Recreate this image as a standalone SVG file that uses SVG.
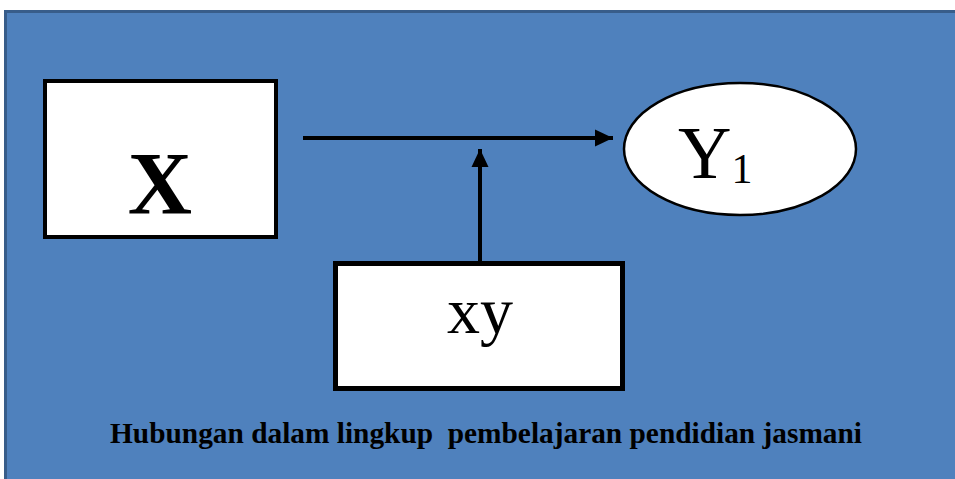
<svg xmlns="http://www.w3.org/2000/svg" width="955" height="479" viewBox="0 0 955 479">
<defs>
<style>
.box{fill:#fff;stroke:#000}
.lbl{font-family:"Liberation Serif","Times New Roman",serif;fill:#000}
.conn{stroke:#000;stroke-width:4;fill:none}
</style>
<marker id="ah" markerUnits="userSpaceOnUse" markerWidth="20" markerHeight="18" refX="18" refY="9" orient="auto" viewBox="0 0 20 18">
<polygon points="0,0.5 18,9 0,17.5" fill="#000"/>
</marker>
</defs>
<rect x="0" y="0" width="955" height="479" fill="#fff"/>
<rect x="5.5" y="11.5" width="960" height="480" fill="#4F81BD" stroke="#385D8A" stroke-width="3"/>
<g id="connectors">
<line class="conn" x1="303" y1="138" x2="613" y2="138" marker-end="url(#ah)"/>
<line class="conn" x1="480" y1="262" x2="480" y2="149" marker-end="url(#ah)"/>
</g>
<g id="node-x">
<rect class="box" x="45" y="81" width="231" height="156" stroke-width="4"/>
<text class="lbl" x="160" y="213" font-size="89" font-weight="bold" text-anchor="middle">X</text>
</g>
<g id="node-y1">
<ellipse class="box" cx="740" cy="149" rx="116" ry="66" stroke-width="2.5"/>
<text class="lbl" x="678" y="178" font-size="74">Y<tspan font-size="42" dy="5">1</tspan></text>
</g>
<g id="node-xy">
<rect class="box" x="335.5" y="263.5" width="287" height="125" stroke-width="5"/>
<text class="lbl" x="480" y="333" font-size="66" text-anchor="middle">xy</text>
</g>
<g id="caption">
<text class="lbl" x="110" y="443" font-size="29" font-weight="bold" textLength="752" lengthAdjust="spacingAndGlyphs" xml:space="preserve">Hubungan dalam lingkup  pembelajaran pendidian jasmani</text>
</g>
</svg>
